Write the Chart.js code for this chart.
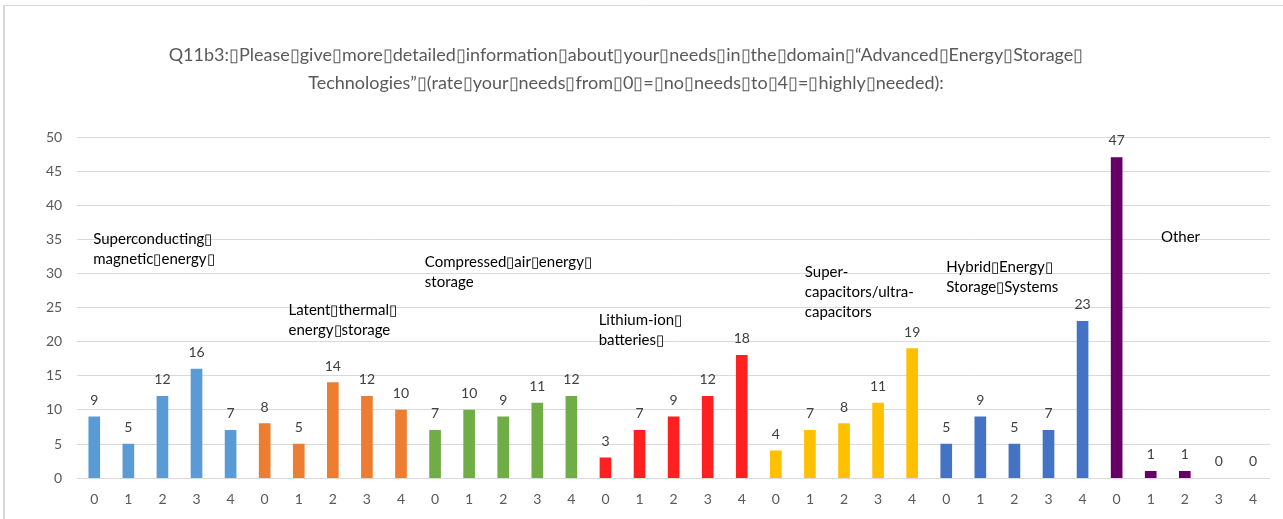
<!DOCTYPE html>
<html><head><meta charset="utf-8">
<script src="https://cdn.jsdelivr.net/npm/chart.js@4.4.1/dist/chart.umd.min.js"></script>
<style>html,body{margin:0;padding:0;background:#fff}#wrap{width:1283px;height:519px;position:relative}</style>
</head><body><div id="wrap"><canvas id="c" width="1283" height="519"></canvas></div>
<script>
const ratings = ["0","1","2","3","4"];
const superconducting = [9,5,12,16,7];
const latentThermal = [8,5,14,12,10];
const compressedAir = [7,10,9,11,12];
const lithiumIon = [3,7,9,12,18];
const superCapacitors = [4,7,8,11,19];
const hybridStorage = [5,9,5,7,23];
const other = [47,1,1,0,0];
const groupValues = [superconducting, latentThermal, compressedAir, lithiumIon, superCapacitors, hybridStorage, other];
const groupColors = ["#5B9BD5","#ED7D31","#70AD47","#FF2121","#FFC000","#4472C4","#660066"];
const groupNames = [
  ["Superconducting\u25AF","magnetic\u25AFenergy\u25AF"],
  ["Latent\u25AFthermal\u25AF","energy\u25AFstorage"],
  ["Compressed\u25AFair\u25AFenergy\u25AF","storage"],
  ["Lithium-ion\u25AF","batteries\u25AF"],
  ["Super-","capacitors/ultra-","capacitors"],
  ["Hybrid\u25AFEnergy\u25AF","Storage\u25AFSystems"],
  ["Other"]
];
// label anchor: [x position in category index units, y value]
const groupNameAnchors = [[-0.03,35],[5.7,24.6],[9.7,31.7],[14.8,23.2],[20.85,30.2],[25.0,30.9],[31.3,35.3]];
const yTicks = [0,5,10,15,20,25,30,35,40,45,50];
const titleLines = [
  "Q11b3:\u25AFPlease\u25AFgive\u25AFmore\u25AFdetailed\u25AFinformation\u25AFabout\u25AFyour\u25AFneeds\u25AFin\u25AFthe\u25AFdomain\u25AF\u201CAdvanced\u25AFEnergy\u25AFStorage\u25AF",
  "Technologies\u201D\u25AF(rate\u25AFyour\u25AFneeds\u25AFfrom\u25AF0\u25AF=\u25AFno\u25AFneeds\u25AFto\u25AF4\u25AF=\u25AFhighly\u25AFneeded):"
];

const labels = [], values = [], colors = [];
groupValues.forEach((g,gi)=>g.forEach((v,i)=>{labels.push(ratings[i]);values.push(v);colors.push(v===0?'rgba(0,0,0,0)':groupColors[gi]);}));

const FONT = "Lato, 'Noto Sans', sans-serif";

const extras = {
  id:'extras',
  afterDraw(chart){
    const ctx = chart.ctx, xs = chart.scales.x, ys = chart.scales.y;
    ctx.save();
    ctx.strokeStyle = '#D9D9D9';
    ctx.lineWidth = 1;
    ctx.beginPath(); ctx.moveTo(4, 5.5); ctx.lineTo(1283, 5.5); ctx.stroke();
    ctx.lineWidth = 2;
    ctx.beginPath(); ctx.moveTo(4, 5); ctx.lineTo(4, 519); ctx.stroke();
    ctx.fillStyle = '#595959'; ctx.font = "18px " + FONT;
    ctx.textAlign = 'center'; ctx.textBaseline = 'middle';
    ctx.fillText(titleLines[0], 626, 55);
    ctx.fillText(titleLines[1], 626, 83);
    ctx.font = "14px " + FONT; ctx.fillStyle = '#404040'; ctx.textBaseline = 'alphabetic';
    const meta = chart.getDatasetMeta(0);
    meta.data.forEach((bar,i)=>{
      ctx.fillText(String(values[i]), bar.x, bar.y - 12);
    });
    ctx.font = "15px " + FONT; ctx.fillStyle = '#000000'; ctx.textAlign = 'left'; ctx.textBaseline = 'middle';
    groupNames.forEach((lines,gi)=>{
      const a = groupNameAnchors[gi];
      const px = xs.getPixelForValue(0) + a[0]*(xs.getPixelForValue(1)-xs.getPixelForValue(0));
      const py = ys.getPixelForValue(a[1]);
      lines.forEach((t,li)=>ctx.fillText(t, px, py + li*20));
    });
    ctx.restore();
  }
};

new Chart(document.getElementById('c'), {
  type:'bar',
  data:{labels, datasets:[{data:values, backgroundColor:colors, barThickness:11, borderWidth:0}]},
  options:{
    responsive:false, animation:false,
    layout:{padding:{top:137, left:31, right:13, bottom:6}},
    plugins:{legend:{display:false}, title:{display:false}, tooltip:{enabled:false}},
    scales:{
      x:{grid:{display:false}, border:{display:false},
         ticks:{color:'#595959', font:{family:FONT,size:14}, padding:5, autoSkip:false, maxRotation:0}},
      y:{min:0, max:50, afterBuildTicks:(s)=>{s.ticks = yTicks.map(v=>({value:v}));},
         grid:{color:'#D9D9D9', drawTicks:false, lineWidth:1}, border:{display:false},
         ticks:{color:'#595959', font:{family:FONT,size:14}, padding:15}}
    }
  },
  plugins:[extras]
});
</script></body></html>
